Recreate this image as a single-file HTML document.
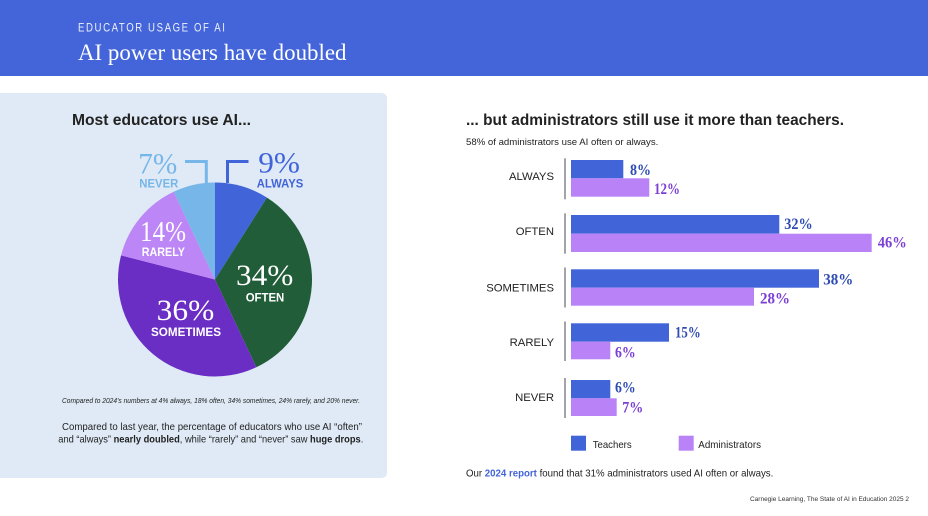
<!DOCTYPE html>
<html><head><meta charset="utf-8"><style>
html,body{margin:0;padding:0;background:#fff;}
svg{display:block;}
.s{font-family:"Liberation Sans",Arial,sans-serif;}
.f{font-family:"Liberation Serif","Times New Roman",serif;}
</style></head><body>
<svg width="928" height="516" viewBox="0 0 928 516" xmlns="http://www.w3.org/2000/svg">
<rect x="0" y="0" width="928" height="516" fill="#ffffff"/>
<!-- header -->
<rect x="0" y="0" width="928" height="76" fill="#4365d9"/>
<text class="s" x="78" y="31.7" font-size="12" fill="#eef1fb" letter-spacing="2" textLength="148.5" lengthAdjust="spacingAndGlyphs">EDUCATOR USAGE OF AI</text>
<text class="f" x="78" y="60" font-size="23" fill="#ffffff" textLength="268.5" lengthAdjust="spacingAndGlyphs">AI power users have doubled</text>

<!-- left panel -->
<path d="M0,93 H381 Q387,93 387,99 V472 Q387,478 381,478 H0 Z" fill="#dfeaf6"/>
<text class="s" x="72" y="125" font-size="16" font-weight="bold" fill="#222" textLength="179" lengthAdjust="spacingAndGlyphs">Most educators use AI...</text>

<!-- pie -->
<path d="M215,279.5 L215,182.5 A97,97 0 0 1 266.97,197.6 Z" fill="#4264d9"/>
<path d="M215,279.5 L266.97,197.6 A97,97 0 0 1 256.30,367.27 Z" fill="#215d38"/>
<path d="M215,279.5 L256.30,367.27 A97,97 0 0 1 121.05,255.38 Z" fill="#6a2ec5"/>
<path d="M215,279.5 L121.05,255.38 A97,97 0 0 1 173.70,191.73 Z" fill="#bc86f6"/>
<path d="M215,279.5 L173.70,191.73 A97,97 0 0 1 215,182.5 Z" fill="#76b6e8"/>

<!-- leader lines -->
<polyline points="185,161.5 206.3,161.5 206.3,183" fill="none" stroke="#76b6e8" stroke-width="3"/>
<polyline points="227.5,183 227.5,161.5 248.5,161.5" fill="none" stroke="#4264d9" stroke-width="3"/>

<!-- pie labels -->
<text class="f" x="138.3" y="173.3" font-size="30" fill="#76b6e8" textLength="39" lengthAdjust="spacingAndGlyphs">7%</text>
<text class="s" x="139.3" y="187.7" font-size="12" font-weight="bold" fill="#76b6e8" textLength="39" lengthAdjust="spacingAndGlyphs">NEVER</text>
<text class="f" x="258.3" y="172.7" font-size="30" fill="#4264d9" textLength="41.7" lengthAdjust="spacingAndGlyphs">9%</text>
<text class="s" x="256.7" y="187.7" font-size="12" font-weight="bold" fill="#4264d9" textLength="46.6" lengthAdjust="spacingAndGlyphs">ALWAYS</text>
<text class="f" x="140" y="241" font-size="29" fill="#ffffff" textLength="46" lengthAdjust="spacingAndGlyphs">14%</text>
<text class="s" x="141.7" y="256" font-size="12" font-weight="bold" fill="#ffffff" textLength="43.3" lengthAdjust="spacingAndGlyphs">RARELY</text>
<text class="f" x="236" y="285" font-size="30" fill="#ffffff" textLength="57.3" lengthAdjust="spacingAndGlyphs">34%</text>
<text class="s" x="245.7" y="301.7" font-size="12" font-weight="bold" fill="#ffffff" textLength="38.6" lengthAdjust="spacingAndGlyphs">OFTEN</text>
<text class="f" x="156.7" y="320" font-size="30" fill="#ffffff" textLength="57.6" lengthAdjust="spacingAndGlyphs">36%</text>
<text class="s" x="151" y="336" font-size="12" font-weight="bold" fill="#ffffff" textLength="70" lengthAdjust="spacingAndGlyphs">SOMETIMES</text>

<!-- left notes -->
<text class="s" x="62" y="403" font-size="7.2" font-style="italic" fill="#222" textLength="298" lengthAdjust="spacingAndGlyphs">Compared to 2024’s numbers at 4% always, 18% often, 34% sometimes, 24% rarely, and 20% never.</text>
<text class="s" x="62" y="430" font-size="10.4" fill="#222" textLength="300" lengthAdjust="spacingAndGlyphs">Compared to last year, the percentage of educators who use AI “often”</text>
<text class="s" x="58.3" y="442.3" font-size="10.4" fill="#222" textLength="305" lengthAdjust="spacingAndGlyphs">and “always” <tspan font-weight="bold">nearly doubled</tspan>, while “rarely” and “never” saw <tspan font-weight="bold">huge drops</tspan>.</text>

<!-- right title -->
<text class="s" x="466" y="125" font-size="16" font-weight="bold" fill="#222" textLength="378" lengthAdjust="spacingAndGlyphs">... but administrators still use it more than teachers.</text>
<text class="s" x="466" y="145" font-size="9.3" fill="#222" textLength="192.3" lengthAdjust="spacingAndGlyphs">58% of administrators use AI often or always.</text>

<!-- axis lines -->
<g stroke="#a3a3ab" stroke-width="2">
<line x1="565" y1="158.3" x2="565" y2="199.3"/>
<line x1="565" y1="213.3" x2="565" y2="253.7"/>
<line x1="565" y1="267.5" x2="565" y2="307.5"/>
<line x1="565" y1="321.5" x2="565" y2="361"/>
<line x1="565" y1="378" x2="565" y2="418"/>
</g>

<!-- bars -->
<g fill="#4264d9">
<rect x="571" y="160" width="52.3" height="18.3"/>
<rect x="571" y="215" width="208.3" height="18.7"/>
<rect x="571" y="269.3" width="248" height="18.4"/>
<rect x="571" y="323.3" width="98" height="18.4"/>
<rect x="571" y="380" width="39.3" height="18.3"/>
</g>
<g fill="#b983f7">
<rect x="571" y="178.3" width="78.3" height="18.4"/>
<rect x="571" y="233.7" width="300.7" height="18.3"/>
<rect x="571" y="287.7" width="183" height="18"/>
<rect x="571" y="341.7" width="39.3" height="17.6"/>
<rect x="571" y="398.3" width="45.7" height="17.7"/>
</g>

<!-- category labels -->
<g class="s" font-size="11.3" fill="#222" text-anchor="end">
<text x="554" y="180">ALWAYS</text>
<text x="554" y="235">OFTEN</text>
<text x="554" y="291.7">SOMETIMES</text>
<text x="554" y="346">RARELY</text>
<text x="554" y="401">NEVER</text>
</g>

<!-- value labels -->
<g class="f" font-size="15.5" font-weight="bold">
<text x="630" y="175" fill="#2d4bb3" textLength="21" lengthAdjust="spacingAndGlyphs">8%</text>
<text x="654" y="194" fill="#7b3fd6" textLength="26" lengthAdjust="spacingAndGlyphs">12%</text>
<text x="784.3" y="229" fill="#2d4bb3" textLength="28.4" lengthAdjust="spacingAndGlyphs">32%</text>
<text x="877.7" y="247.7" fill="#7b3fd6" textLength="29" lengthAdjust="spacingAndGlyphs">46%</text>
<text x="823.3" y="284.3" fill="#2d4bb3" textLength="30" lengthAdjust="spacingAndGlyphs">38%</text>
<text x="760" y="303.3" fill="#7b3fd6" textLength="30" lengthAdjust="spacingAndGlyphs">28%</text>
<text x="675" y="337.7" fill="#2d4bb3" textLength="25.7" lengthAdjust="spacingAndGlyphs">15%</text>
<text x="615" y="357.7" fill="#7b3fd6" textLength="20.7" lengthAdjust="spacingAndGlyphs">6%</text>
<text x="615" y="392.3" fill="#2d4bb3" textLength="20.7" lengthAdjust="spacingAndGlyphs">6%</text>
<text x="622.3" y="412.7" fill="#7b3fd6" textLength="21" lengthAdjust="spacingAndGlyphs">7%</text>
</g>

<!-- legend -->
<rect x="571" y="435.7" width="15" height="15" fill="#4264d9"/>
<text class="s" x="592.7" y="448" font-size="10.5" fill="#222" textLength="39" lengthAdjust="spacingAndGlyphs">Teachers</text>
<rect x="678.7" y="435.7" width="15" height="15" fill="#b983f7"/>
<text class="s" x="698.3" y="448" font-size="10.5" fill="#222" textLength="62.7" lengthAdjust="spacingAndGlyphs">Administrators</text>

<!-- footer -->
<text class="s" x="466" y="476.7" font-size="10.3" fill="#222" textLength="307.3" lengthAdjust="spacingAndGlyphs">Our <tspan font-weight="bold" fill="#4264d9">2024 report</tspan> found that 31% administrators used AI often or always.</text>
<text class="s" x="750" y="501" font-size="6.6" fill="#333" textLength="159" lengthAdjust="spacingAndGlyphs">Carnegie Learning, The State of AI in Education 2025   2</text>
</svg>
</body></html>
